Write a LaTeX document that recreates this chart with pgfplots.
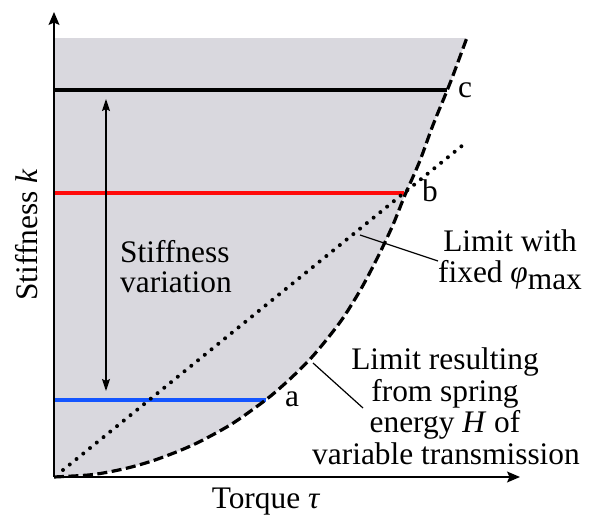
\documentclass[border=0pt]{standalone}
\usepackage{pgfplots}
\pgfplotsset{compat=1.18}
\usepackage{fontspec}
\setmainfont{Liberation Serif}
\usetikzlibrary{arrows.meta}
\definecolor{graybg}{RGB}{217,216,222}
\definecolor{myred}{RGB}{255,10,10}
\definecolor{myblue}{RGB}{20,85,255}
\begin{document}
\begin{tikzpicture}[lbl/.style={font=\fontsize{31.5}{32}\selectfont, inner sep=0pt}]
\useasboundingbox (0,0) rectangle (598bp,516bp);
\begin{axis}[
  at={(54bp,39bp)}, anchor=origin,
  scale only axis, width=466bp, height=465bp,
  xmin=0, xmax=466, ymin=0, ymax=465,
  axis lines=left, axis on top,
  axis line style={line width=1.3bp, -{Stealth[length=13bp,width=11bp,inset=2.5bp]}},
  xtick=\empty, ytick=\empty,
  clip=false,
]
% gray region
\addplot[fill=graybg, draw=none] coordinates {(0,0) (413,0) (413,439) (0,439)} -- cycle;
\addplot[fill=white, draw=none, smooth, tension=0.5] coordinates {
  (0,0) (34.6,2) (54.8,5) (77.5,10) (101,17) (127.3,27) (149,37) (179.3,54) (212.9,78) (234.9,97) (255.3,117) (273.1,138) (289.7,160) (308.1,190) (324.8,222) (338.9,252) (351,282) (365.8,316) (379,352) (396.5,395) (412.8,439)} \closedcycle;
% horizontal lines
\addplot[myblue, line width=3.4bp] coordinates {(0,77) (212,77)};
\addplot[myred, line width=3.4bp] coordinates {(0,284) (350,284)};
\addplot[black, line width=3.4bp] coordinates {(0,387) (393,387)};
% dotted line
\addplot[black, line width=4bp, line cap=round, dash pattern=on 0pt off 8.7bp] coordinates {(9,7) (409,332)};
% dashed limit curve
\addplot[black, line width=3.2bp, dash pattern=on 10bp off 4.5bp, smooth, tension=0.5] coordinates {
  (0,0) (34.6,2) (54.8,5) (77.5,10) (101,17) (127.3,27) (149,37) (179.3,54) (212.9,78) (234.9,97) (255.3,117) (273.1,138) (289.7,160) (308.1,190) (324.8,222) (338.9,252) (351,282) (365.8,316) (379,352) (396.5,395) (412.8,439)};
% stiffness variation arrow
\addplot[black, line width=1.4bp, {Stealth[length=12bp,width=8bp,inset=2bp]}-{Stealth[length=12bp,width=8bp,inset=2bp]}] coordinates {(52,86) (52,378)};
% leader lines
\addplot[black, line width=1.2bp] coordinates {(306,242) (384,216)};
\addplot[black, line width=1.2bp] coordinates {(259,114) (309,69)};
% labels
\node[lbl, anchor=base west] at (axis cs:66,214) {Stiffness};
\node[lbl, anchor=base west] at (axis cs:66,184) {variation};
\node[lbl, anchor=base west] at (axis cs:231,70) {a};
\node[lbl, anchor=base west] at (axis cs:368,275) {b};
\node[lbl, anchor=base west] at (axis cs:404,379) {c};
\node[lbl, anchor=base] at (axis cs:456,225) {Limit with};
\node[lbl, anchor=base] at (axis cs:456,194) {fixed \textit{φ}\raisebox{-0.22em}{max}};
\node[lbl, anchor=base] at (axis cs:391,107) {Limit resulting};
\node[lbl, anchor=base] at (axis cs:391,75) {from spring};
\node[lbl, anchor=base] at (axis cs:391,44) {energy \textit{H} of};
\node[lbl, anchor=base] at (axis cs:392,13) {variable transmission};
\node[lbl, anchor=base] at (axis cs:212,-31) {Torque \textit{τ}};
\node[lbl, anchor=base, rotate=90] at (axis cs:-17,242) {Stiffness \textit{k}};
\end{axis}
\end{tikzpicture}
\end{document}
